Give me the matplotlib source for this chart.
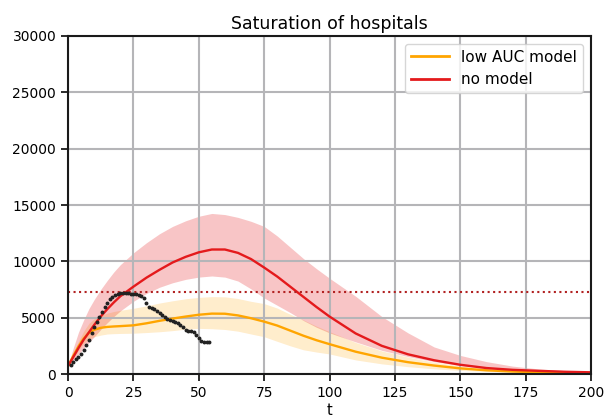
import numpy as np
import matplotlib
matplotlib.use("Agg")
import matplotlib.pyplot as plt

# observed hospital occupancy (daily)
obs_t = list(range(1, 55))
obs_y = [800, 1090, 1300, 1540, 1780, 2130, 2570, 3020, 3610, 4200,
         4640, 5090, 5530, 5980, 6330, 6630, 6860, 7010, 7100, 7160,
         7220, 7220, 7160, 7100, 7100, 7070, 6980, 6900, 6720, 6330,
         5980, 5830, 5740, 5620, 5380, 5240, 5030, 4850, 4790, 4730,
         4640, 4500, 4350, 4140, 3900, 3850, 3850, 3700, 3460, 3170,
         2960, 2870, 2840, 2810]

# model time grid
t = [0, 2, 4, 6, 8, 10, 12.5, 15, 17.5, 20, 25, 30, 35, 40, 45, 50, 55, 60,
     65, 70, 75, 80, 85, 90, 95, 100, 110, 120, 130, 140, 150, 160, 170,
     180, 190, 200]

nomodel = [700, 1500, 2300, 3050, 3700, 4350, 5100, 5750, 6350, 6900,
           7750, 8550, 9250, 9900, 10400, 10800, 11050, 11050, 10750, 10200,
           9450, 8650, 7750, 6850, 5950, 5100, 3600, 2500, 1750, 1220,
           820, 530, 370, 280, 200, 150]
nomodel_hi = [700, 2300, 3700, 4800, 5800, 6600, 7500, 8300, 9050, 9700,
              10750, 11650, 12450, 13100, 13600, 14000, 14250, 14150, 13900, 13550,
              13100, 12250, 11250, 10250, 9350, 8500, 6900, 5100, 3650, 2400,
              1650, 1100, 700, 450, 300, 200]
nomodel_lo = [700, 1200, 1750, 2300, 2800, 3300, 3950, 4550, 5100, 5600,
              6450, 7150, 7700, 8100, 8400, 8600, 8700, 8600, 8250, 7550,
              6750, 6100, 5450, 4750, 4150, 3650, 2850, 2100, 1550, 1100,
              750, 500, 330, 210, 140, 90]

lowauc = [700, 1600, 2450, 3150, 3650, 3920, 4100, 4180, 4220, 4250,
          4320, 4500, 4720, 4920, 5100, 5260, 5360, 5350, 5200, 4950,
          4650, 4300, 3850, 3400, 3000, 2650, 1980, 1450, 1050, 750,
          500, 330, 220, 160, 120, 90]
lowauc_hi = [700, 1800, 2900, 3800, 4500, 4900, 5200, 5400, 5550, 5650,
             5830, 6050, 6300, 6500, 6680, 6800, 6870, 6850, 6700, 6450,
             6250, 5850, 5300, 4800, 4250, 3760, 2800, 2050, 1500, 1050,
             720, 480, 320, 220, 160, 120]
lowauc_lo = [700, 1400, 2100, 2700, 3100, 3300, 3450, 3550, 3580, 3600,
             3620, 3680, 3750, 3850, 3980, 4050, 4020, 3950, 3800, 3550,
             3310, 2900, 2500, 2150, 1950, 1780, 1250, 900, 650, 460,
             320, 220, 150, 100, 70, 50]

capacity = 7280

fig = plt.figure(figsize=(6.05, 4.2), dpi=100)
ax = fig.add_axes([0.1124, 0.1095, 0.8645, 0.8048])

red = '#e41a1c'
orange = '#ffa500'

ax.fill_between(t, lowauc_lo, lowauc_hi, color=orange, alpha=0.2, lw=0)
ax.fill_between(t, nomodel_lo, nomodel_hi, color=red, alpha=0.25, lw=0)
ax.plot(t, lowauc, color=orange, lw=1.7, label='low AUC model')
ax.plot(t, nomodel, color=red, lw=1.7, label='no model')
ax.axhline(capacity, color='firebrick', ls=':', lw=1.5)
ax.plot(obs_t, obs_y, ls='none', marker='o', ms=1.8, color='#222222')

ax.set_xlim(0, 200)
ax.set_ylim(0, 30000)
ax.set_xticks(np.arange(0, 201, 25))
ax.set_yticks(np.arange(0, 30001, 5000))
ax.grid(True, color='#b5b5b8', lw=1.5)
for s in ax.spines.values():
    s.set_linewidth(1.5)
    s.set_color('#1a1a1a')
ax.tick_params(labelsize=10, width=1.3, length=5, color='#1a1a1a')
ax.set_xlabel('t', fontsize=10.5, labelpad=2)
ax.set_title('Saturation of hospitals', fontsize=12.5, pad=5)
leg = ax.legend(loc='upper right', fontsize=11, handlelength=2.5,
                borderaxespad=0.5)
for ln in leg.get_lines():
    ln.set_linewidth(2)

fig.savefig('out.png', dpi=100)
